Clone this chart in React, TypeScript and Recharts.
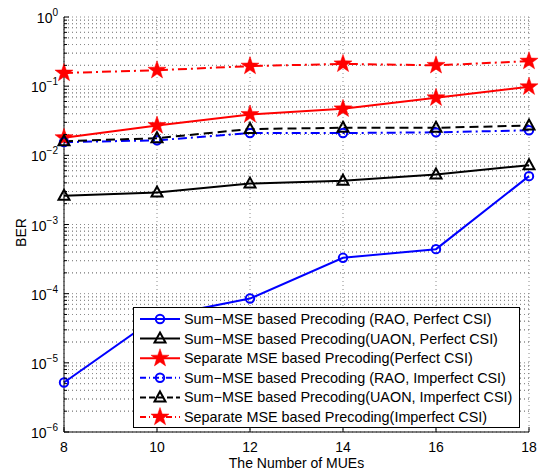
import React from "react";
import {
  LineChart,
  Line,
  XAxis,
  YAxis,
  CartesianGrid,
  ReferenceLine,
  Legend,
} from "recharts";

const mues = [8, 10, 12, 14, 16, 18];
const raoPerfect = [5.2e-6, 4.6e-5, 8.5e-5, 3.3e-4, 4.4e-4, 5.0e-3];
const uaonPerfect = [2.6e-3, 2.9e-3, 3.9e-3, 4.3e-3, 5.3e-3, 7.2e-3];
const sepPerfect = [0.018, 0.027, 0.039, 0.047, 0.068, 0.098];
const raoImperfect = [0.0155, 0.0165, 0.021, 0.021, 0.0215, 0.023];
const uaonImperfect = [0.016, 0.0177, 0.024, 0.025, 0.025, 0.027];
const sepImperfect = [0.155, 0.17, 0.195, 0.21, 0.2, 0.23];

const yTicks = [1e-6, 1e-5, 1e-4, 1e-3, 1e-2, 1e-1, 1];
const xTicks = [8, 10, 12, 14, 16, 18];

const data = mues.map((x, i) => ({
  x,
  raoPerfect: raoPerfect[i],
  uaonPerfect: uaonPerfect[i],
  sepPerfect: sepPerfect[i],
  raoImperfect: raoImperfect[i],
  uaonImperfect: uaonImperfect[i],
  sepImperfect: sepImperfect[i],
}));

// minor log grid 2..9 x 10^k
const minorY: number[] = [];
for (let k = -6; k < 0; k++) {
  for (let m = 2; m <= 9; m++) minorY.push(m * Math.pow(10, k));
}
const allY = [...yTicks, ...minorY].sort((a, b) => a - b);

const FONT = "'Liberation Sans', Arial, Helvetica, sans-serif";
const GRID = "#8a8a8a";

const isMajor = (v: number) => Math.abs(Math.log10(v) - Math.round(Math.log10(v))) < 1e-6;

const starPath = (cx: number, cy: number, R: number) => {
  const r = R * 0.4;
  let d = "";
  for (let i = 0; i < 10; i++) {
    const rad = i % 2 === 0 ? R : r;
    const a = -Math.PI / 2 + (i * Math.PI) / 5;
    d += (i === 0 ? "M" : "L") + (cx + rad * Math.cos(a)).toFixed(2) + "," + (cy + rad * Math.sin(a)).toFixed(2);
  }
  return d + "Z";
};

const Marker = ({ kind, cx, cy, color }: any) => {
  if (cx == null || cy == null) return null;
  if (kind === "circle")
    return <circle cx={cx} cy={cy} r={4.2} fill="none" stroke={color} strokeWidth={2} />;
  if (kind === "triangle")
    return (
      <path
        d={`M${cx},${cy - 6}L${cx + 5.5},${cy + 4}L${cx - 5.5},${cy + 4}Z`}
        fill="none"
        stroke={color}
        strokeWidth={2}
      />
    );
  return <path d={starPath(cx, cy, 9.5)} fill={color} stroke={color} strokeWidth={0.5} />;
};

const series = [
  { key: "raoPerfect", name: "Sum\u2212MSE based Precoding (RAO, Perfect CSI)", color: "#0000ff", dash: undefined, legendDash: undefined, marker: "circle" },
  { key: "uaonPerfect", name: "Sum\u2212MSE based Precoding(UAON, Perfect CSI)", color: "#000000", dash: undefined, legendDash: undefined, marker: "triangle" },
  { key: "sepPerfect", name: "Separate MSE based Precoding(Perfect CSI)", color: "#ff0000", dash: undefined, legendDash: undefined, marker: "star" },
  { key: "raoImperfect", name: "Sum\u2212MSE based Precoding (RAO, Imperfect CSI)", color: "#0000ff", dash: "9 4 2 4", legendDash: "6 3 1 3", marker: "circle" },
  { key: "uaonImperfect", name: "Sum\u2212MSE based Precoding(UAON, Imperfect CSI)", color: "#000000", dash: "9 5", legendDash: "6 3", marker: "triangle" },
  { key: "sepImperfect", name: "Separate MSE based Precoding(Imperfect CSI)", color: "#ff0000", dash: "9 4 2 4", legendDash: "6 3 1 3", marker: "star" },
];

// left axis: labels on decades, inward tick marks on all
const LogTick = ({ x, y, payload }: any) => {
  const v = payload.value;
  const major = isMajor(v);
  const ax = x + 6;
  return (
    <g>
      <line x1={ax} x2={ax + (major ? 5 : 3)} y1={y} y2={y} stroke="#000" strokeWidth={1} />
      {major && (
        <text x={x} y={y + 6} textAnchor="end" fontFamily={FONT} fill="#000">
          <tspan fontSize={14}>10</tspan>
          <tspan fontSize={10} dy={-7}>
            {Math.round(Math.log10(v)) === 0 ? "0" : "\u2212" + -Math.round(Math.log10(v))}
          </tspan>
        </text>
      )}
    </g>
  );
};

const RightTick = ({ x, y, payload }: any) => {
  const major = isMajor(payload.value);
  return <line x1={x} x2={x - (major ? 5 : 3)} y1={y} y2={y} stroke="#000" strokeWidth={1} />;
};

const BottomTick = ({ x, y, payload }: any) => (
  <g>
    <line x1={x} x2={x} y1={y} y2={y - 5} stroke="#000" strokeWidth={1} />
    <text x={x} y={y + 20} textAnchor="middle" fontSize={14} fontFamily={FONT} fill="#000">
      {payload.value}
    </text>
  </g>
);

const TopTick = ({ x, y }: any) => (
  <line x1={x} x2={x} y1={y} y2={y + 5} stroke="#000" strokeWidth={1} />
);

const BerLabel = ({ viewBox }: any) => {
  const cx = viewBox.x + 7;
  const cy = viewBox.y + viewBox.height / 2 + 8;
  return (
    <text
      x={cx}
      y={cy}
      transform={`rotate(-90 ${cx} ${cy})`}
      textAnchor="middle"
      dominantBaseline="central"
      fontSize={14}
      fontFamily={FONT}
      fill="#000"
    >
      BER
    </text>
  );
};

const renderLegend = () => (
  <svg width={388} height={122} style={{ display: "block" }}>
    <rect x={0.5} y={0.5} width={386} height={120} fill="#fff" stroke="#000" strokeWidth={1} />
    {series.map((s, i) => {
      const cy = 12 + i * 19.6;
      return (
        <g key={s.key}>
          <line x1={7} x2={47} y1={cy} y2={cy} stroke={s.color} strokeWidth={2} strokeDasharray={s.legendDash} />
          <Marker kind={s.marker} cx={27} cy={cy} color={s.color} />
          <text x={51} y={cy + 5} fontSize={14.4} fontFamily={FONT} fill="#000">
            {s.name}
          </text>
        </g>
      );
    })}
  </svg>
);

export default function App() {
  return (
    <div style={{ position: "absolute", left: 0, top: 0, background: "#fff" }}>
      <LineChart
        width={539}
        height={471}
        data={data}
        margin={{ top: 17, right: 10, left: 14, bottom: 9 }}
      >
        <CartesianGrid stroke={GRID} strokeDasharray="1 3" horizontal={true} vertical={true} />
        {minorY.map((v) => (
          <ReferenceLine key={v} y={v} stroke={GRID} strokeDasharray="1 3" strokeWidth={1} />
        ))}
        <XAxis
          dataKey="x"
          type="number"
          domain={[8, 18]}
          ticks={xTicks}
          tickLine={false}
          tickSize={0}
          tickMargin={0}
          axisLine={{ stroke: "#000" }}
          tick={<BottomTick />}
          height={30}
          label={{ value: "The Number of MUEs", position: "insideBottom", offset: -6, fill: "#000", fontSize: 14, fontFamily: FONT }}
        />
        <XAxis xAxisId="top" orientation="top" dataKey="x" type="number" domain={[8, 18]} ticks={xTicks} tick={<TopTick />} tickLine={false} tickSize={0} tickMargin={0} axisLine={{ stroke: "#000" }} height={0} />
        <YAxis
          scale="log"
          type="number"
          domain={[1e-6, 1]}
          ticks={allY}
          interval={0}
          allowDataOverflow
          tickLine={false}
          tickSize={0}
          tickMargin={6}
          axisLine={{ stroke: "#000" }}
          tick={<LogTick />}
          width={50}
          label={<BerLabel />}
        />
        <YAxis yAxisId="right" orientation="right" scale="log" type="number" domain={[1e-6, 1]} ticks={allY} interval={0} tick={<RightTick />} tickLine={false} tickSize={0} tickMargin={0} axisLine={{ stroke: "#000" }} width={0} />
        {series.map((s) => (
          <Line
            key={s.key}
            dataKey={s.key}
            name={s.name}
            stroke={s.color}
            strokeWidth={2}
            strokeDasharray={s.dash}
            isAnimationActive={false}
            type="linear"
            dot={(p: any) => <Marker key={`${s.key}-${p.index}`} kind={s.marker} cx={p.cx} cy={p.cy} color={s.color} />}
          />
        ))}
        <Legend
          layout="horizontal"
          verticalAlign="middle"
          content={renderLegend}
          wrapperStyle={{ left: 133, top: 307, width: 388, height: 122 }}
        />
      </LineChart>
    </div>
  );
}
